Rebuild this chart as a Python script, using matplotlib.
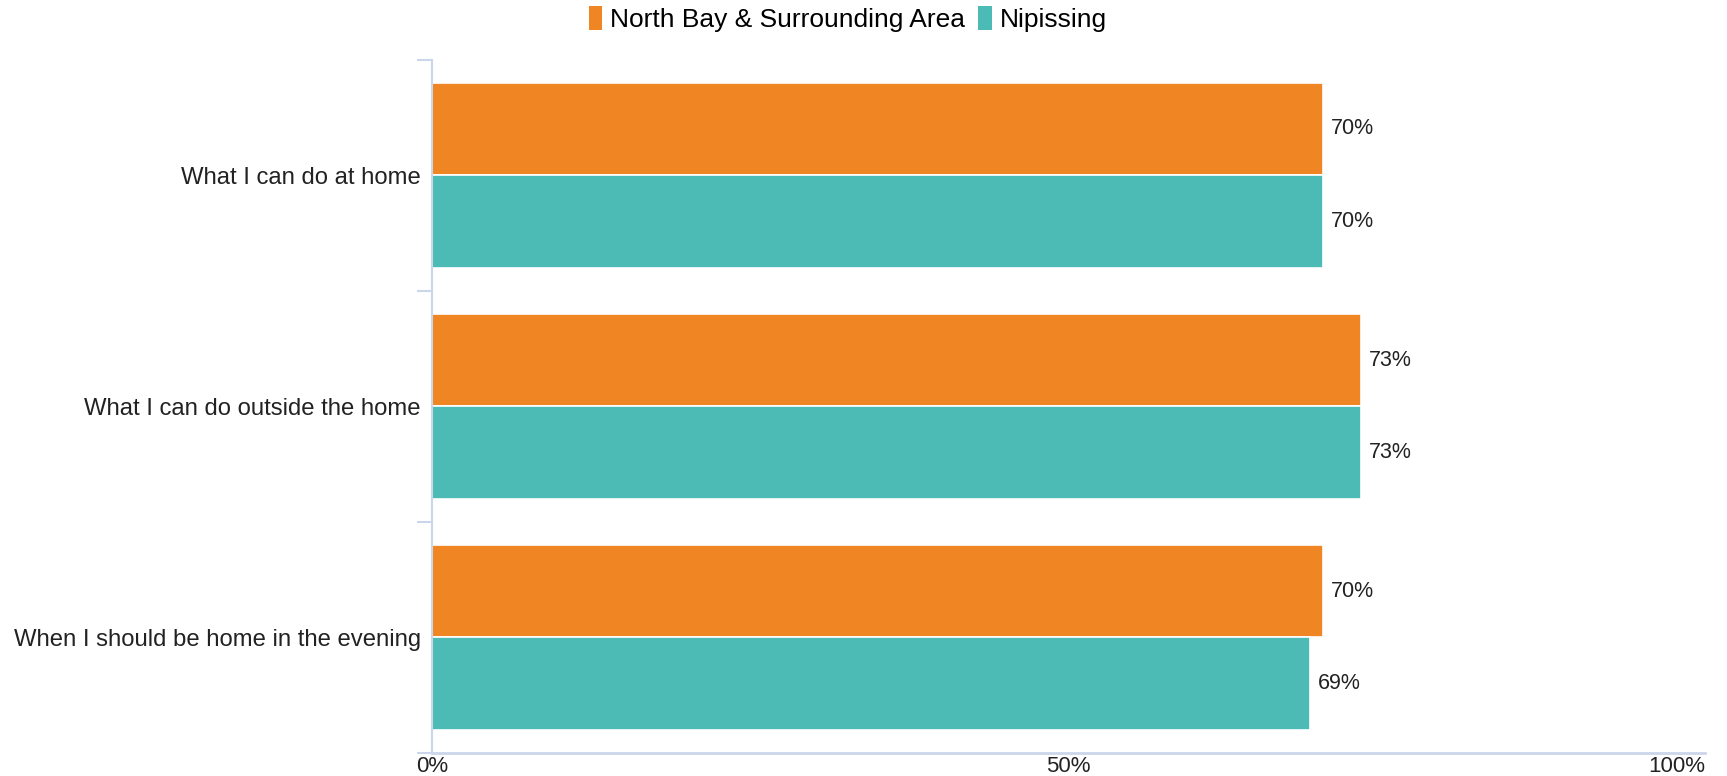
import matplotlib
matplotlib.use("Agg")
import matplotlib.pyplot as plt
from matplotlib.patches import Patch
import numpy as np

plt.rcParams['font.family'] = ['Liberation Sans', 'DejaVu Sans']

categories = ["What I can do at home", "What I can do outside the home",
              "When I should be home in the evening"]
series_names = ["North Bay & Surrounding Area", "Nipissing"]
north_bay = [70, 73, 70]
nipissing = [70, 73, 69]
colors = ["#F08623", "#4DBBB5"]
xticks = [0, 50, 100]
xtick_labels = ["0%", "50%", "100%"]

fig = plt.figure(figsize=(17.27, 7.76), dpi=100)
ax = fig.add_axes([0.2501, 0.0296, 0.9873 - 0.2501, 0.9233 - 0.0296])

y = np.arange(len(categories))
h = 0.4
for i, (vals, col) in enumerate(zip([north_bay, nipissing], colors)):
    pos = y - h / 2 + i * h
    ax.barh(pos, vals, height=h, color=col, edgecolor="white", linewidth=1.2)
    for p, v in zip(pos, vals):
        ax.text(v + 0.6, p, f"{v}%", va="center", ha="left", fontsize=15.5, color="#222222")

ax.set_xlim(0, 100)
ax.set_ylim(len(categories) - 0.5, -0.5)
ax.set_yticks(y)
ax.set_yticklabels(categories, fontsize=17.2, color="#222222")
ax.tick_params(axis="y", which="major", length=0, pad=8)
ax.set_yticks(np.arange(len(categories) + 1) - 0.5, minor=True)
ax.tick_params(axis="y", which="minor", length=11, width=1.5, color="#ccd6eb")

ax.set_xticks(xticks)
ax.set_xticklabels(xtick_labels, fontsize=16, color="#222222")
ax.tick_params(axis="x", length=0, pad=2)
ax.get_xticklabels()[-1].set_horizontalalignment("right")

for s in ["top", "right"]:
    ax.spines[s].set_visible(False)
for s in ["left", "bottom"]:
    ax.spines[s].set_color("#ccd6eb")
ax.spines["left"].set_linewidth(1.5)
ax.spines["bottom"].set_linewidth(2)

handles = [Patch(facecolor=c, edgecolor="none") for c in colors]
fig.legend(handles, series_names, loc="center", bbox_to_anchor=(0.491, 0.975), ncol=2,
           frameon=False, fontsize=19, handlelength=0.5, handleheight=1.0,
           handletextpad=0.3, columnspacing=0.5)

fig.savefig("out.png", dpi=100, facecolor="white")
